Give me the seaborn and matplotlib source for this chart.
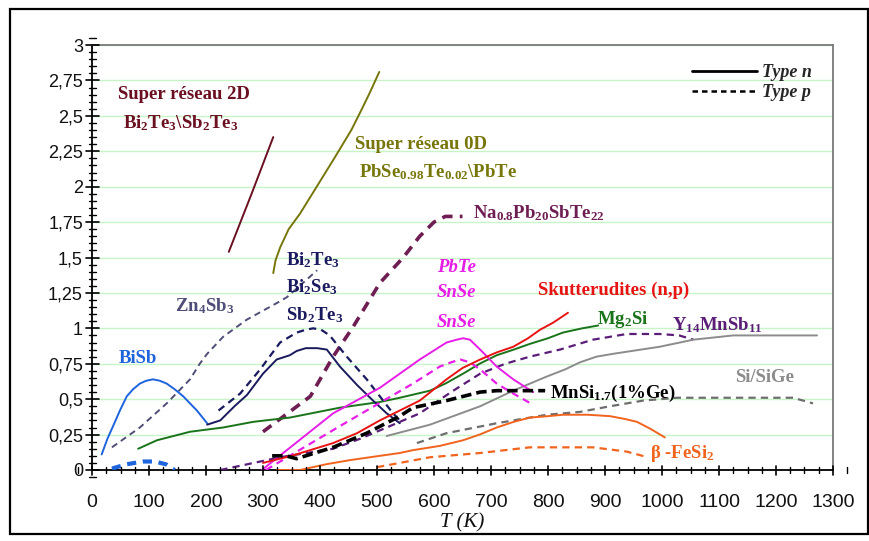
import numpy as np
import pandas as pd
import matplotlib
matplotlib.use("Agg")
import matplotlib.pyplot as plt
from matplotlib.lines import Line2D
from matplotlib.patches import Rectangle
from matplotlib.ticker import MultipleLocator, FixedLocator, FixedFormatter
import seaborn as sns

# ---------------- data (T in K, ZT) ----------------
sr2d_T = [240, 280, 318]
sr2d_Z = [1.54, 1.95, 2.35]

sr0d_T = [318, 322, 330, 345, 365, 385, 405, 425, 440, 455, 470, 487, 504]
sr0d_Z = [1.39, 1.48, 1.57, 1.70, 1.81, 1.94, 2.07, 2.20, 2.30, 2.40, 2.52, 2.66, 2.81]

na_T = [300, 383, 423, 458, 505, 546, 575, 600, 620, 650]
na_Z = [0.27, 0.52, 0.80, 1.01, 1.32, 1.50, 1.65, 1.75, 1.79, 1.79]

bite_n_T = [202, 225, 250, 272, 300, 324, 347, 359, 375, 395, 412, 435, 465, 493, 517, 540]
bite_n_Z = [0.32, 0.35, 0.45, 0.53, 0.68, 0.78, 0.81, 0.84, 0.86, 0.86, 0.85, 0.73, 0.60, 0.49, 0.40, 0.33]

bite_p_T = [222, 260, 295, 330, 359, 375, 388, 402, 417, 447, 482, 505, 528, 540]
bite_p_Z = [0.42, 0.54, 0.71, 0.90, 0.97, 0.99, 1.00, 0.99, 0.95, 0.80, 0.64, 0.52, 0.40, 0.35]

znsb_T = [35, 84, 131, 172, 189, 202, 230, 271, 325, 342, 395]
znsb_Z = [0.16, 0.30, 0.47, 0.64, 0.75, 0.82, 0.94, 1.06, 1.18, 1.22, 1.41]

bisb_n_T = [17, 27, 37, 49, 61, 72, 84, 95, 107, 119, 131, 145, 160, 172, 184, 202]
bisb_n_Z = [0.11, 0.22, 0.31, 0.42, 0.52, 0.57, 0.61, 0.63, 0.64, 0.63, 0.61, 0.57, 0.52, 0.47, 0.42, 0.33]

bisb_p_T = [35, 60, 90, 110, 130, 145]
bisb_p_Z = [0.01, 0.04, 0.06, 0.06, 0.04, 0.00]

mg2si_T = [81, 114, 172, 230, 283, 347, 435, 505, 540, 593, 620, 651, 680, 710, 740, 768, 800, 826, 860, 888]
mg2si_Z = [0.15, 0.21, 0.27, 0.30, 0.34, 0.37, 0.44, 0.48, 0.51, 0.56, 0.61, 0.68, 0.75, 0.81, 0.85, 0.89, 0.93, 0.97, 1.00, 1.02]

pbte_n_T = [298, 423, 505, 575, 622, 640, 651, 663, 681, 710, 739, 774]
pbte_n_Z = [0.00, 0.40, 0.58, 0.78, 0.90, 0.92, 0.93, 0.92, 0.85, 0.73, 0.64, 0.55]

pbte_p_T = [305, 435, 563, 610, 630, 646, 663, 681, 710, 739, 774]
pbte_p_Z = [0.00, 0.31, 0.61, 0.73, 0.76, 0.78, 0.76, 0.71, 0.61, 0.54, 0.46]

skut_T = [300, 350, 423, 465, 505, 540, 575, 600, 622, 650, 681, 710, 739, 765, 786, 809, 835]
skut_Z = [0.05, 0.10, 0.19, 0.26, 0.35, 0.42, 0.49, 0.57, 0.64, 0.72, 0.78, 0.83, 0.87, 0.93, 0.99, 1.04, 1.11]

y14_T = [225, 307, 330, 423, 470, 517, 575, 630, 681, 725, 768, 821, 879, 938, 996, 1030, 1055]
y14_Z = [0.00, 0.07, 0.09, 0.15, 0.22, 0.30, 0.40, 0.55, 0.68, 0.75, 0.80, 0.85, 0.92, 0.96, 0.96, 0.95, 0.92]

mnsi_T = [316, 340, 359, 423, 482, 540, 563, 622, 681, 710, 795]
mnsi_Z = [0.10, 0.10, 0.08, 0.16, 0.26, 0.38, 0.44, 0.49, 0.55, 0.56, 0.56]

sige_n_T = [517, 593, 681, 739, 798, 830, 856, 885, 914, 996, 1055, 1125, 1172, 1272]
sige_n_Z = [0.24, 0.32, 0.45, 0.56, 0.66, 0.71, 0.76, 0.80, 0.82, 0.87, 0.92, 0.95, 0.95, 0.95]

sige_p_T = [570, 622, 710, 798, 856, 909, 967, 1026, 1230, 1265]
sige_p_Z = [0.19, 0.26, 0.33, 0.39, 0.41, 0.45, 0.49, 0.51, 0.51, 0.47]

fesi_n_T = [324, 365, 410, 453, 540, 563, 610, 651, 680, 710, 740, 768, 800, 826, 870, 909, 935, 956, 980, 1005]
fesi_n_Z = [0.00, 0.00, 0.04, 0.07, 0.12, 0.14, 0.17, 0.21, 0.25, 0.30, 0.34, 0.37, 0.38, 0.39, 0.39, 0.38, 0.36, 0.34, 0.29, 0.23]

fesi_p_T = [500, 593, 681, 768, 856, 879, 938, 975]
fesi_p_Z = [0.02, 0.09, 0.12, 0.16, 0.16, 0.16, 0.13, 0.09]

x_ticks = list(range(0, 1400, 100))
y_ticks = [0, 0.25, 0.5, 0.75, 1, 1.25, 1.5, 1.75, 2, 2.25, 2.5, 2.75, 3]
y_tick_labels = ["0", "0,25", "0,5", "0,75", "1", "1,25", "1,5", "1,75", "2",
                 "2,25", "2,5", "2,75", "3"]

# ---------------- style ----------------
sns.set_theme(style="ticks")
plt.rcParams["font.family"] = ["Liberation Serif", "DejaVu Serif"]
plt.rcParams["mathtext.fontset"] = "custom"
plt.rcParams["mathtext.rm"] = "Liberation Serif:bold"
plt.rcParams["mathtext.it"] = "Liberation Serif:bold:italic"
plt.rcParams["mathtext.bf"] = "Liberation Serif:bold"
plt.rcParams["mathtext.default"] = "rm"

fig = plt.figure(figsize=(8.69, 5.41), dpi=100)
ax = fig.add_axes([92 / 869, 1 - 470 / 541, (833 - 92) / 869, (470 - 45) / 541])

C_2D = "#6a1020"
C_0D = "#76760a"
C_NA = "#6e1e52"
C_NAVY = "#1a1a5e"
C_ZN = "#4e4e78"
C_BLUE = "#1e64dc"
C_GREEN = "#1a741a"
C_MAG = "#e61ee6"
C_RED = "#e81414"
C_Y14 = "#5a1e78"
C_BLACK = "#000000"
C_GRAY = "#8c8c8c"
C_GRAY2 = "#6e6e6e"
C_ORANGE = "#f0641e"

dash_n = (3.3, 2.3)


def draw(T, Z, color, lw=1.4, ls="-"):
    df = pd.DataFrame({"T": T, "ZT": Z})
    sns.lineplot(data=df, x="T", y="ZT", ax=ax, color=color, lw=lw,
                 linestyle=ls, sort=False, estimator=None, zorder=3)


draw(sr2d_T, sr2d_Z, C_2D)
draw(sr0d_T, sr0d_Z, C_0D)
draw(na_T, na_Z, C_NA, lw=2.6, ls=(0, (2.9, 2.0)))
draw(znsb_T, znsb_Z, C_ZN, lw=1.4, ls=(0, dash_n))
draw(bisb_n_T, bisb_n_Z, C_BLUE)
draw(bisb_p_T, bisb_p_Z, C_BLUE, lw=3.0, ls=(0, (2.2, 1.6)))
draw(mg2si_T, mg2si_Z, C_GREEN)
draw(bite_n_T, bite_n_Z, C_NAVY)
draw(bite_p_T, bite_p_Z, C_NAVY, lw=1.6, ls=(0, (3.3, 2.3)))
draw(y14_T, y14_Z, C_Y14, lw=1.6, ls=(0, dash_n))
draw(sige_n_T, sige_n_Z, C_GRAY)
draw(sige_p_T, sige_p_Z, C_GRAY2, lw=1.6, ls=(0, dash_n))
draw(fesi_n_T, fesi_n_Z, C_ORANGE)
draw(fesi_p_T, fesi_p_Z, C_ORANGE, lw=1.6, ls=(0, dash_n))
draw(pbte_n_T, pbte_n_Z, C_MAG)
draw(pbte_p_T, pbte_p_Z, C_MAG, lw=1.6, ls=(0, dash_n))
draw(skut_T, skut_Z, C_RED)
draw(mnsi_T, mnsi_Z, C_BLACK, lw=2.6, ls=(0, (2.9, 1.4)))

# ---------------- axes ----------------
ax.set_xlim(0, 1300)
ax.set_ylim(0, 3)
ax.xaxis.set_major_locator(FixedLocator(x_ticks))
ax.xaxis.set_minor_locator(MultipleLocator(25))
ax.yaxis.set_major_locator(FixedLocator(y_ticks))
ax.yaxis.set_major_formatter(FixedFormatter(y_tick_labels))
ax.yaxis.set_minor_locator(MultipleLocator(0.05))

ax.grid(axis="y", which="major", color="#c8f5c8", lw=1.0)
ax.set_axisbelow(True)

for s in ["left", "bottom"]:
    ax.spines[s].set_color("black")
    ax.spines[s].set_linewidth(1.3)
for s in ["top", "right"]:
    ax.spines[s].set_color("#7a7a7a")
    ax.spines[s].set_linewidth(1.3)

ax.set_xlabel("T (K)", fontsize=15, style="italic", labelpad=2, color="#111111")
ax.set_ylabel("")

# tick labels (tick marks drawn explicitly below)
ax.tick_params(axis="y", which="major", length=0, pad=6.5, labelsize=13,
               labelcolor="#111111", labelfontfamily="Liberation Sans",
               left=True, right=False)
ax.tick_params(axis="y", which="minor", length=0, left=False, right=False)
ax.tick_params(axis="x", which="major", length=0, pad=17, labelsize=14,
               labelcolor="#111111", labelfontfamily="Liberation Sans",
               bottom=True, top=False)
ax.tick_params(axis="x", which="minor", length=0, bottom=False, top=False)

ytr = ax.get_yaxis_transform()
xtr = ax.get_xaxis_transform()
w_px = 833 - 92
h_px = 470 - 45
for v in ax.yaxis.get_minorticklocs().tolist() + list(y_ticks):
    major = any(abs(v - m) < 1e-6 for m in y_ticks)
    half = (6.5 if major else 3.5) / w_px
    ax.add_line(Line2D([-half, half], [v, v], transform=ytr, color="black",
                       lw=1.2 if major else 1.0, clip_on=False, zorder=6))
for v in ax.xaxis.get_minorticklocs().tolist() + list(x_ticks):
    major = any(abs(v - m) < 1e-6 for m in x_ticks)
    half = (4.5 if major else 3.2) / h_px
    ax.add_line(Line2D([v, v], [-half, half], transform=xtr, color="black",
                       lw=1.2 if major else 1.0, clip_on=False, zorder=6))
ax.set_xlim(0, 1300)
ax.set_ylim(0, 3)

# ---------------- labels ----------------
fs = 13.5


def put_label(x, y, s, color, style="normal", ha="left"):
    ax.text(x, y, s, color=color, fontsize=fs, fontweight="bold", style=style,
            ha=ha, va="center", zorder=4)


put_label(45, 2.65, "Super réseau 2D", C_2D)
put_label(54, 2.45, r"Bi$_2$Te$_3$\Sb$_2$Te$_3$", C_2D)
put_label(461, 2.30, "Super réseau 0D", C_0D)
put_label(468, 2.10, r"PbSe$_{0.98}$Te$_{0.02}$\PbTe", C_0D)
put_label(668, 1.81, r"Na$_{0.8}$Pb$_{20}$SbTe$_{22}$", C_NA)
put_label(340, 1.48, r"Bi$_2$Te$_3$", C_NAVY)
put_label(340, 1.29, r"Bi$_2$Se$_3$", C_NAVY)
put_label(340, 1.09, r"Sb$_2$Te$_3$", C_NAVY)
put_label(146, 1.16, r"Zn$_4$Sb$_3$", C_ZN)
put_label(46, 0.79, "BiSb", C_BLUE)
put_label(640, 1.43, "PbTe", C_MAG, style="italic", ha="center")
put_label(640, 1.25, "SnSe", C_MAG, style="italic", ha="center")
put_label(640, 1.04, "SnSe", C_MAG, style="italic", ha="center")
put_label(782, 1.27, "Skutterudites (n,p)", C_RED)
put_label(886, 1.06, r"Mg$_2$Si", C_GREEN)
put_label(1017, 1.02, r"Y$_{14}$MnSb$_{11}$", C_Y14)
put_label(1128, 0.65, "Si/SiGe", C_GRAY)
put_label(803, 0.54, r"MnSi$_{1.7}$(1%Ge)", C_BLACK)
put_label(979, 0.12, r"β -FeSi$_2$", C_ORANGE)

# ---------------- legend ----------------
handles = [Line2D([], [], color="black", lw=2.0, ls="-"),
           Line2D([], [], color="black", lw=1.8, ls=(0, (2.2, 1.6)))]
leg = ax.legend(handles, ["Type n", "Type p"], loc="upper right",
                bbox_to_anchor=(0.972, 0.955), frameon=False, handlelength=3.6,
                handletextpad=0.3, labelspacing=0.15, borderpad=0, borderaxespad=0,
                prop={"family": "Liberation Serif", "weight": "bold",
                      "style": "italic", "size": 13})

# outer frame
fig.add_artist(Rectangle((10 / 869, 1 - 534 / 541), (868 - 10) / 869, (534 - 9) / 541,
                         transform=fig.transFigure, facecolor="none", lw=1.6,
                         edgecolor="black", zorder=10))

fig.savefig("out.png", dpi=100)
